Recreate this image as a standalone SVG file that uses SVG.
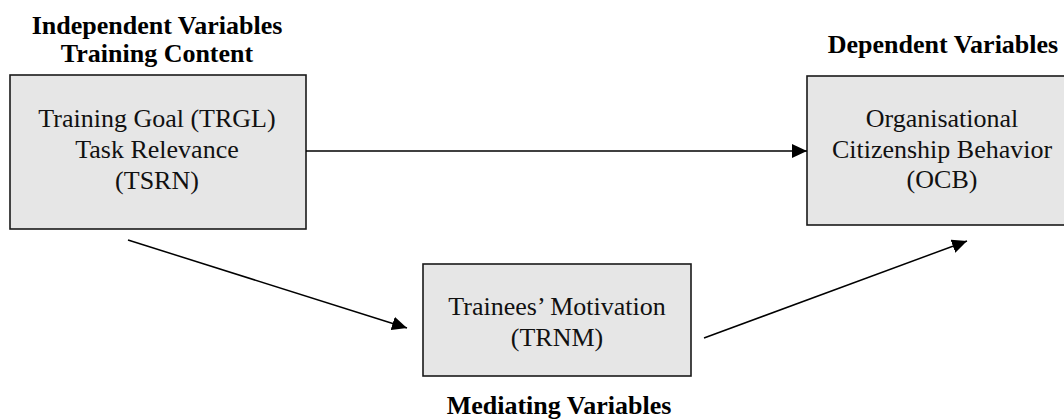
<svg xmlns="http://www.w3.org/2000/svg" width="1064" height="420" viewBox="0 0 1064 420">
  <style>
    .box { fill: #e6e6e6; stroke: #1a1a1a; stroke-width: 1.6; }
    .t { font-family: "Liberation Serif", "Times New Roman", serif; font-size: 26px; fill: #111; text-anchor: middle; }
    .h { font-family: "Liberation Serif", "Times New Roman", serif; font-size: 26px; font-weight: bold; fill: #000; text-anchor: middle; }
    .conn { stroke: #000; stroke-width: 1.5; fill: none; marker-end: url(#arrow); }
  </style>
  <defs>
    <marker id="arrow" markerUnits="userSpaceOnUse" markerWidth="16" markerHeight="14" refX="15" refY="7" orient="auto">
      <path d="M0,0 L15,7 L0,14 Z" fill="#000"/>
    </marker>
  </defs>
  <rect width="1064" height="420" fill="#fff"/>

  <g id="labels">
    <text class="h" x="157" y="34">Independent Variables</text>
    <text class="h" x="157" y="62">Training Content</text>
    <text class="h" x="943" y="53">Dependent Variables</text>
    <text class="h" x="559" y="414">Mediating Variables</text>
  </g>

  <g id="node-independent">
    <rect class="box" x="10" y="75" width="296" height="154"/>
    <text class="t" x="157" y="127">Training Goal (TRGL)</text>
    <text class="t" x="157" y="158">Task Relevance</text>
    <text class="t" x="157" y="189">(TSRN)</text>
  </g>

  <g id="node-dependent">
    <rect class="box" x="807" y="76" width="270" height="149"/>
    <text class="t" x="942" y="127">Organisational</text>
    <text class="t" x="942" y="158">Citizenship Behavior</text>
    <text class="t" x="942" y="188">(OCB)</text>
  </g>

  <g id="node-mediating">
    <rect class="box" x="423" y="264" width="268" height="112"/>
    <text class="t" x="557" y="315">Trainees’ Motivation</text>
    <text class="t" x="557" y="346">(TRNM)</text>
  </g>

  <g id="connectors">
    <line class="conn" x1="306" y1="151" x2="807" y2="151"/>
    <line class="conn" x1="128" y1="240" x2="407" y2="328"/>
    <line class="conn" x1="704" y1="338" x2="967" y2="241"/>
  </g>
</svg>
